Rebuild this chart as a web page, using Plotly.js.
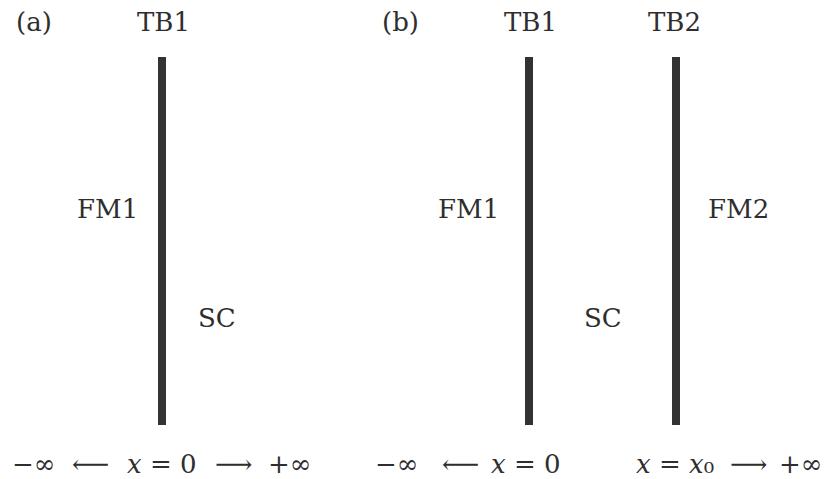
<!DOCTYPE html>
<html>
<head>
<meta charset="utf-8">
<script src="https://cdn.plot.ly/plotly-3.0.1.min.js"></script>
<style>html,body{margin:0;padding:0;background:#fff;}#chart{width:834px;height:479px;}</style>
</head>
<body>
<div id="chart"></div>
<script>
// Interface (tunnel barrier) positions in the schematic's coordinate frame
const barrierNames = ["TB1 (a)", "TB1 (b)", "TB2 (b)"];
const barrierX = [162, 529, 676];
const barrierTop = [57, 57, 57];
const barrierBottom = [425, 425, 425];

// Text labels
const labelText = ["(a)", "TB1", "(b)", "TB1", "TB2", "FM1", "SC", "FM1", "SC", "FM2"];
const labelX = [34, 163, 400, 530, 674, 107, 217, 468, 603, 738];
const labelY = [22, 22, 22, 22, 22, 209, 318, 209, 318, 209];

// Bottom axis annotation pieces
const axisText = ["−∞", "⟵", "<i>x</i> = 0", "⟶", "+∞",
                  "−∞", "⟵", "<i>x</i> = 0", "<i>x</i> = <i>x</i>₀", "⟶", "+∞"];
const axisX = [33, 90, 162, 233, 289, 396, 460, 526, 675, 748, 800];
const axisY = [464, 464, 464, 464, 464, 464, 464, 464, 464, 464, 464];

const traces = barrierX.map((x, i) => ({
  type: "scatter", mode: "lines", name: barrierNames[i],
  x: [x, x], y: [barrierTop[i], barrierBottom[i]],
  line: {color: "#333333", width: 8}, hoverinfo: "skip", showlegend: false
}));

const font = {family: "DejaVu Serif", size: 26, color: "#2e2e2e"};
const annotations = [];
labelText.forEach((t, i) => annotations.push({
  x: labelX[i], y: labelY[i], xref: "x", yref: "y", text: t, showarrow: false,
  font: font, xanchor: "center", yanchor: "middle"
}));
axisText.forEach((t, i) => annotations.push({
  x: axisX[i], y: axisY[i], xref: "x", yref: "y", text: t, showarrow: false,
  font: font, xanchor: "center", yanchor: "middle"
}));

const layout = {
  width: 834, height: 479,
  margin: {l: 0, r: 0, t: 0, b: 0},
  paper_bgcolor: "#ffffff", plot_bgcolor: "#ffffff",
  xaxis: {range: [0, 834], visible: false, fixedrange: true},
  yaxis: {range: [479, 0], visible: false, fixedrange: true},
  annotations: annotations, showlegend: false
};
Plotly.newPlot("chart", traces, layout, {displayModeBar: false, staticPlot: true});
</script>
</body>
</html>
